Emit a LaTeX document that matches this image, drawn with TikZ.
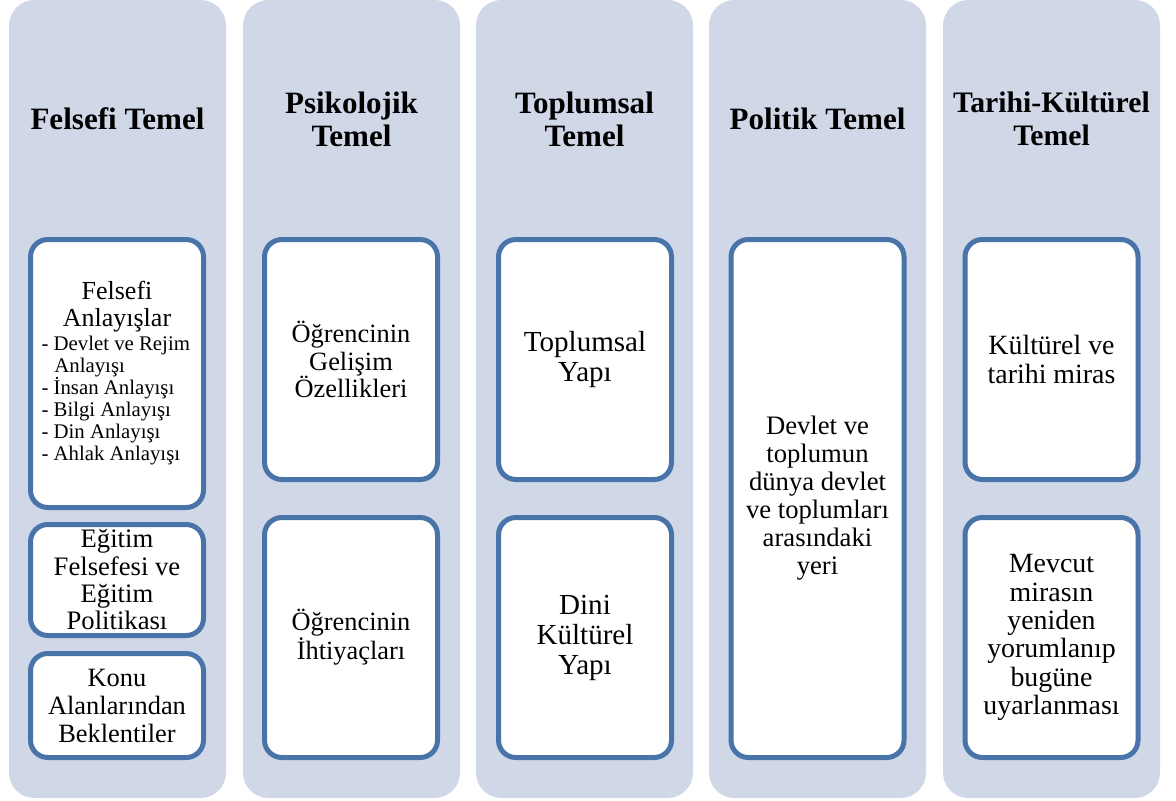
\documentclass[tikz,border=0pt]{standalone}
\usepackage{fontspec}
\setmainfont{Liberation Serif}
\definecolor{colfill}{RGB}{208,216,232}
\definecolor{cardblue}{RGB}{72,116,170}
\tikzset{
  col/.style={fill=colfill, rounded corners=19pt, minimum width=162.75pt, minimum height=598.5pt, inner sep=0pt},
  card/.style={draw=cardblue, line width=3.75pt, fill=white, rounded corners=13pt, minimum width=129.75pt, inner sep=0pt, align=center},
  ttl/.style={align=center, font=\bfseries\fontsize{23.3}{24.75}\selectfont},
  fs/.style={font=\fontsize{#1}{1.05*#1}\selectfont}
}
\begin{document}
\begin{tikzpicture}[x=0.75pt,y=-0.75pt]
\useasboundingbox (0,0) rectangle (1176,800);
% columns
\node[col] (c1) at (117.5,399) {};
\node[col] (c2) at (351.5,399) {};
\node[col] (c3) at (584.5,399) {};
\node[col] (c4) at (817.5,399) {};
\node[col] (c5) at (1051.5,399) {};
% titles
\node[ttl] (t1) at (117.5,119) {Felsefi Temel};
\node[ttl] (t2) at (351.5,119) {Psikolojik\\Temel};
\node[ttl] (t3) at (584.5,119) {Toplumsal\\Temel};
\node[ttl] (t4) at (817.5,119) {Politik Temel};
\node[ttl, font=\bfseries\fontsize{22.3}{24.75}\selectfont] (t5) at (1051.5,119) {Tarihi-Kültürel\\Temel};
% column 1
\node[card, minimum height=201pt] (f1) at (117,373.5) {\begin{minipage}{113.25pt}
{\centering\fontsize{19.5}{20.25}\selectfont Felsefi\\Anlayışlar\par}
\vspace{1.5pt}
{\raggedright\fontsize{15.6}{16.5}\selectfont - Devlet ve Rejim\\\hspace*{0.62em}Anlayışı\\- İnsan Anlayışı\\- Bilgi Anlayışı\\- Din Anlayışı\\- Ahlak Anlayışı\par}
\end{minipage}};
\node[card, minimum height=83.25pt, font=\fontsize{20}{20.5}\selectfont] (f2) at (117,580) {Eğitim\\Felsefesi ve\\Eğitim\\Politikası};
\node[card, minimum height=78pt, font=\fontsize{19.8}{21}\selectfont] (f3) at (117,705.5) {Konu\\Alanlarından\\Beklentiler};
% column 2
\node[card, minimum height=180pt, font=\fontsize{19.8}{20.6}\selectfont] (p1) at (351,359.5) {Öğrencinin\\Gelişim\\Özellikleri};
\node[card, minimum height=180pt, font=\fontsize{19.8}{20.6}\selectfont] (p2) at (351,637.5) {Öğrencinin\\İhtiyaçları};
% column 3
\node[card, minimum height=180pt, font=\fontsize{21.8}{21.75}\selectfont] (s1) at (585,359.5) {Toplumsal\\Yapı};
\node[card, minimum height=180pt, font=\fontsize{21.8}{22.5}\selectfont] (s2) at (585,637.5) {Dini\\Kültürel\\Yapı};
% column 4
\node[card, minimum height=388.5pt, font=\fontsize{20}{21}\selectfont] (o1) at (817.5,498.5) {Devlet ve\\toplumun\\dünya devlet\\ve toplumları\\arasındaki\\yeri};
% column 5
\node[card, minimum height=180pt, font=\fontsize{20.9}{21.2}\selectfont] (k1) at (1051.5,359.5) {Kültürel ve\\tarihi miras};
\node[card, minimum height=180pt, font=\fontsize{20.9}{21.2}\selectfont] (k2) at (1051.5,637.5) {Mevcut\\mirasın\\yeniden\\yorumlanıp\\bugüne\\uyarlanması};
\end{tikzpicture}
\end{document}
